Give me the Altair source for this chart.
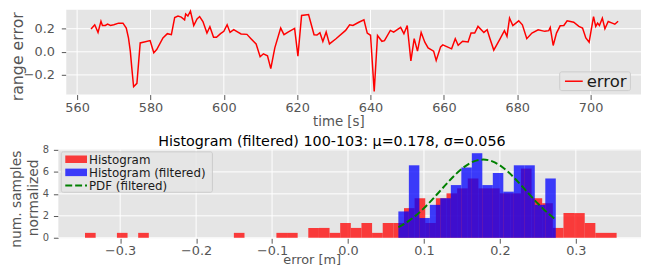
import altair as alt
import numpy as np
import pandas as pd

FONT = "DejaVu Sans"
GRAY = "#555555"
BG = "#E5E5E5"

# ---------------- top panel: range error over time ----------------
time_s = [563.8, 564.8, 565.7, 566.5, 566.9, 567.7, 568.3, 569.1, 570.0, 571.3, 572.5, 573.4,
          574.0, 574.5, 574.9, 575.4, 576.3, 577.2, 578.3, 579.9, 580.9, 581.7, 583.4, 584.6,
          585.7, 586.6, 587.5, 588.4, 589.3, 589.6, 590.2, 590.9, 591.8, 592.7, 593.4, 594.3,
          595.4, 596.2, 597.2, 598.0, 599.1, 600.0, 600.9, 601.7, 602.7, 603.6, 604.7, 606.3,
          607.4, 608.8, 609.9, 610.8, 611.9, 612.8, 613.9, 615.5, 616.4, 617.5, 619.3, 620.2,
          621.2, 623.1, 624.6, 625.4, 626.2, 627.0, 627.9, 628.8, 630.5, 633.2, 634.3, 635.2,
          636.8, 638.2, 639.1, 640.0, 641.0, 641.9, 643.1, 643.8, 645.4, 646.3, 648.2, 649.1,
          650.0, 651.0, 651.9, 652.8, 653.8, 654.8, 655.7, 657.2, 657.9, 659.1, 659.7, 662.1,
          663.1, 663.9, 665.1, 666.6, 667.4, 668.4, 669.3, 670.9, 671.8, 672.5, 673.6, 675.2,
          676.5, 677.2, 677.9, 678.8, 680.4, 681.4, 682.6, 684.0, 685.7, 687.5, 688.6, 689.0,
          689.8, 690.7, 691.7, 692.7, 693.6, 694.5, 695.4, 696.8, 697.8, 698.7, 699.6, 700.1,
          700.8, 701.4, 701.9, 702.4, 703.2, 703.9, 704.8, 705.9, 706.6, 707.5]
range_err = [0.197, 0.234, 0.168, 0.265, 0.228, 0.228, 0.239, 0.228, 0.234, 0.248, 0.248, 0.205,
             0.120, 0.006, -0.137, -0.302, -0.273, 0.077, 0.085, 0.097, -0.008, 0.020, 0.120, 0.157,
             0.148, 0.297, 0.310, 0.300, 0.277, 0.328, 0.310, 0.353, 0.228, 0.285, 0.305, 0.262,
             0.162, 0.217, 0.126, 0.126, 0.157, 0.177, 0.234, 0.168, 0.191, 0.174, 0.154, 0.151,
             0.114, 0.068, -0.043, -0.017, -0.034, -0.145, 0.034, 0.205, 0.148, 0.171, 0.202, -0.037,
             0.314, 0.322, 0.148, 0.145, 0.165, 0.089, 0.171, 0.068, 0.111, 0.185, 0.234, 0.228,
             0.256, 0.277, 0.162, 0.143, -0.344, 0.140, 0.091, 0.097, 0.185, 0.171, 0.211, 0.157,
             0.228, -0.079, 0.114, 0.006, 0.168, 0.083, 0.034, 0.006, -0.074, 0.043, 0.060, 0.026,
             0.114, 0.057, 0.091, 0.085, 0.162, 0.162, 0.220, 0.168, 0.191, 0.120, 0.015, 0.106,
             0.183, 0.134, 0.291, 0.228, 0.268, 0.234, 0.114, 0.162, 0.191, 0.177, 0.183, 0.211,
             0.055, 0.162, 0.225, 0.228, 0.268, 0.262, 0.256, 0.220, 0.205, 0.120, 0.083, 0.177,
             0.305, 0.220, 0.248, 0.228, 0.291, 0.200, 0.262, 0.248, 0.239, 0.265]
top_x_ticks = [560, 580, 600, 620, 640, 660, 680, 700]
top_y_ticks = [-0.2, 0.0, 0.2]
top_legend = ["error"]
top_ylabel = "range error"
top_xlabel = "time [s]"

# ---------------- bottom panel: histograms ----------------
hist_range = [-0.3463, 0.3537]          # 50 equal bins
hist_heights = [0.45, 0, 0, 0.45, 0, 0.45, 0, 0, 0, 0,
                0, 0, 0, 0, 0.45, 0, 0, 0, 0.45, 0.45,
                0, 0.9, 0.9, 0.45, 1.35, 0.9, 1.35, 0.45, 1.35, 1.35,
                2.7, 3.6, 1.35, 3.6, 4.05, 4.5, 5.4, 4.5, 4.5, 4.05,
                4.05, 6.3, 3.6, 3.15, 0.9, 2.25, 2.25, 1.35, 0.45, 0.45]
filt_range = [0.0663, 0.2736]           # 15 equal bins
filt_heights = [2.4, 6.6, 1.8, 3.0, 3.6, 4.8, 6.4, 7.7, 4.8, 5.9, 4.2, 6.6, 6.6, 3.0, 5.4]
pdf_x = [0.0663, 0.08, 0.09, 0.10, 0.11, 0.12, 0.13, 0.14, 0.15, 0.16, 0.17, 0.178,
         0.19, 0.20, 0.21, 0.22, 0.23, 0.24, 0.25, 0.26, 0.27, 0.2736]
pdf_y = [0.96, 1.54, 2.07, 2.70, 3.41, 4.17, 4.93, 5.66, 6.29, 6.77, 7.05, 7.12,
         6.96, 6.59, 6.05, 5.38, 4.63, 3.86, 3.12, 2.44, 1.85, 1.66]
bot_x_ticks = [-0.3, -0.2, -0.1, 0.0, 0.1, 0.2, 0.3]
bot_y_ticks = [0, 2, 4, 6, 8]
bot_legend = ["Histogram", "Histogram (filtered)", "PDF (filtered)"]
bot_title = "Histogram (filtered) 100-103: μ=0.178, σ=0.056"
bot_ylabel = ["num. samples", "normalized"]
bot_xlabel = "error [m]"

# ---------------- tables ----------------
top_df = pd.DataFrame({"t": time_s, "err": range_err})
e1 = np.linspace(hist_range[0], hist_range[1], len(hist_heights) + 1)
hist_df = pd.DataFrame({"lo": e1[:-1], "hi": e1[1:], "h": hist_heights, "b": 0.0})
hist_df = hist_df[hist_df.h > 0]
e2 = np.linspace(filt_range[0], filt_range[1], len(filt_heights) + 1)
filt_df = pd.DataFrame({"lo": e2[:-1], "hi": e2[1:], "h": filt_heights, "b": 0.0})
pdf_df = pd.DataFrame({"x": pdf_x, "y": pdf_y})

# ---------------- layout (one drawing area holding both panels) ----------------
W, H = 590, 231.5
T_X0, T_X1, T_Y0, T_Y1 = 8, 590, 0, 86          # top panel rectangle
B_X0, B_X1, B_Y0, B_Y1 = 0, 590, 141.5, 231.5   # bottom panel rectangle

xs_top = alt.Scale(domain=[557.04, 713.74], range=[T_X0, T_X1], nice=False, zero=False)
ys_top = alt.Scale(domain=[-0.370, 0.365], range=[T_Y1, T_Y0], nice=False, zero=False)
xs_bot = alt.Scale(domain=[-0.3814, 0.3858], range=[B_X0, B_X1], nice=False, zero=False)
ys_bot = alt.Scale(domain=[-0.04, 8.05], range=[B_Y1, B_Y0], nice=False, zero=False)

one = lambda s: pd.DataFrame({"label": [s]})


def panel_bg(x0, x1, y0, y1):
    return alt.Chart(one("bg")).mark_rect(fill=BG).encode(
        x=alt.value(x0), x2=alt.value(x1), y=alt.value(y0), y2=alt.value(y1))


def vgrid(ticks, scale, y0, y1):
    return alt.Chart(pd.DataFrame({"v": ticks})).mark_rule(color="white", strokeWidth=1).encode(
        x=alt.X("v:Q", scale=scale, axis=None), y=alt.value(y0), y2=alt.value(y1))


def hgrid(ticks, scale, x0, x1):
    return alt.Chart(pd.DataFrame({"v": ticks})).mark_rule(color="white", strokeWidth=1).encode(
        y=alt.Y("v:Q", scale=scale, axis=None), x=alt.value(x0), x2=alt.value(x1))


def label(text, x, y, size, color=GRAY, angle=0, align="center"):
    return alt.Chart(one(text)).mark_text(
        font=FONT, fontSize=size, color=color, angle=angle, align=align,
        baseline="alphabetic").encode(x=alt.value(x), y=alt.value(y), text="label:N")


# top panel
line = alt.Chart(top_df).mark_line(color="#FF0000", strokeWidth=1.5).encode(
    x=alt.X("t:Q", scale=xs_top,
            axis=alt.Axis(orient="bottom", offset=T_Y1 - H, values=top_x_ticks, format="d",
                          title=None, tickSize=5, labelPadding=2.5)),
    y=alt.Y("err:Q", scale=ys_top,
            axis=alt.Axis(orient="left", offset=-T_X0, values=top_y_ticks, format=".1f",
                          title=None, tickSize=5, labelPadding=7)),
)
tl_box = alt.Chart(one("box")).mark_rect(
    fill=BG, fillOpacity=0.8, stroke="#CCCCCC", strokeWidth=1, cornerRadius=2
).encode(x=alt.value(507.7), x2=alt.value(579.3), y=alt.value(63), y2=alt.value(82))
tl_line = alt.Chart(one(top_legend[0])).mark_rule(color="#FF0000", strokeWidth=1.5).encode(
    x=alt.value(513), x2=alt.value(531), y=alt.value(72.5))
tl_text = label(top_legend[0], 535, 78, 16.7, color="#1a1a1a", align="left")

# bottom panel
red_bars = alt.Chart(hist_df).mark_rect(color="#FF0000", opacity=0.75).encode(
    x=alt.X("lo:Q", scale=xs_bot,
            axis=alt.Axis(orient="bottom", values=bot_x_ticks, format=".1f", title=None,
                          tickSize=5, labelPadding=1)),
    x2="hi:Q",
    y=alt.Y("h:Q", scale=ys_bot,
            axis=alt.Axis(orient="left", values=bot_y_ticks, format="d", title=None,
                          tickSize=5, labelPadding=5, labelFontSize=10)),
    y2="b:Q",
)
blue_bars = alt.Chart(filt_df).mark_rect(color="#0000FF", opacity=0.75).encode(
    x=alt.X("lo:Q", scale=xs_bot, axis=None), x2="hi:Q",
    y=alt.Y("h:Q", scale=ys_bot, axis=None), y2="b:Q",
)
pdf_line = alt.Chart(pdf_df).mark_line(color="#008000", strokeWidth=2, strokeDash=[7, 3],
                                       interpolate="monotone").encode(
    x=alt.X("x:Q", scale=xs_bot, axis=None), y=alt.Y("y:Q", scale=ys_bot, axis=None))

bl_box = alt.Chart(one("box")).mark_rect(
    fill=BG, fillOpacity=0.8, stroke="#CCCCCC", strokeWidth=1, cornerRadius=2
).encode(x=alt.value(3), x2=alt.value(156), y=alt.value(144), y2=alt.value(185))
bl_red = alt.Chart(one(bot_legend[0])).mark_rect(color="#FF0000", opacity=0.75).encode(
    x=alt.value(7), x2=alt.value(29), y=alt.value(147.7), y2=alt.value(155.3))
bl_blue = alt.Chart(one(bot_legend[1])).mark_rect(color="#0000FF", opacity=0.75).encode(
    x=alt.value(7), x2=alt.value(29), y=alt.value(161), y2=alt.value(168.6))
bl_green = alt.Chart(one(bot_legend[2])).mark_rule(color="#008000", strokeWidth=2,
                                                   strokeDash=[7, 3]).encode(
    x=alt.value(7), x2=alt.value(29), y=alt.value(178.2))
bl_texts = [label(t, 31, yb, 12, color="#1a1a1a", align="left")
            for t, yb in zip(bot_legend, [156, 169.3, 182.6])]

titles = [
    label(top_ylabel, -36, 47.7, 16, angle=270),
    label(top_xlabel, 284, 118, 13.5),
    label(bot_title, 277, 138, 14.5, color="black"),
    label(bot_ylabel[0], -37.8, 192, 14, angle=270),
    label(bot_ylabel[1], -20.6, 190.5, 14, angle=270),
    label(bot_xlabel, 257, 258, 13),
]

chart = alt.layer(
    panel_bg(T_X0, T_X1, T_Y0, T_Y1), panel_bg(B_X0, B_X1, B_Y0, B_Y1),
    vgrid(top_x_ticks, xs_top, T_Y0, T_Y1), hgrid(top_y_ticks, ys_top, T_X0, T_X1),
    vgrid(bot_x_ticks, xs_bot, B_Y0, B_Y1), hgrid(bot_y_ticks, ys_bot, B_X0, B_X1),
    line, tl_box, tl_line, tl_text,
    red_bars, blue_bars, pdf_line,
    bl_box, bl_red, bl_blue, bl_green, *bl_texts,
    *titles,
).resolve_scale(x="independent", y="independent").properties(
    width=W, height=H,
    autosize=alt.AutoSizeParams(type="none"),
    padding={"left": 51, "top": 0, "right": 0, "bottom": 30},
    background="white",
).configure_view(stroke=None, fill=None).configure_axis(
    domain=False, grid=False,
    tickColor=GRAY, tickWidth=1, labelColor=GRAY,
    labelFont=FONT, labelFontSize=13,
)

chart.save("out.html", embed_options={"renderer": "svg", "actions": False})
